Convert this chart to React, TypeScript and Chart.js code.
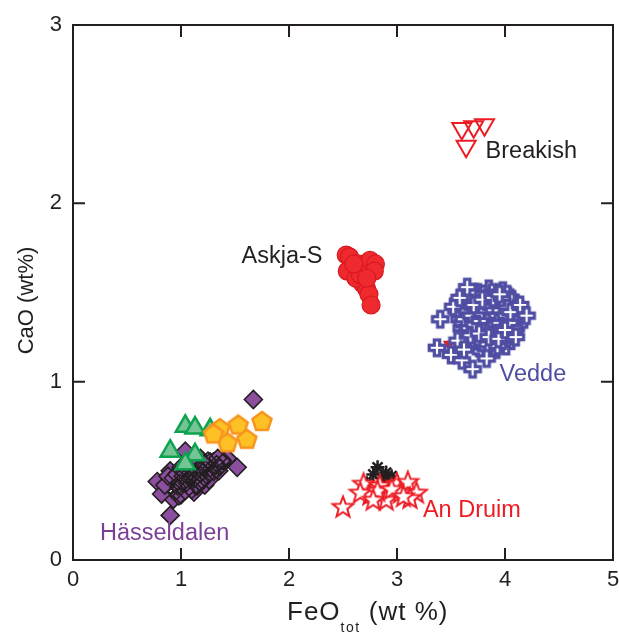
import React, { useEffect, useRef } from "react";
import { Chart, registerables } from "chart.js";

Chart.register(...registerables);

type P = [number, number];

const xTicks = [0, 1, 2, 3, 4, 5];
const yTicks = [0, 1, 2, 3];

const breakish: P[] = [[3.60, 2.42], [3.71, 2.43], [3.81, 2.44], [3.64, 2.32]];

const askja: P[] = [
  [2.53, 1.71], [2.56, 1.70], [2.58, 1.62], [2.54, 1.62], [2.64, 1.66], [2.70, 1.63],
  [2.75, 1.68], [2.80, 1.66], [2.79, 1.62], [2.68, 1.55], [2.72, 1.52], [2.74, 1.49],
  [2.62, 1.58], [2.76, 1.43], [2.66, 1.60], [2.72, 1.58], [2.60, 1.66],
];

const vedde: P[] = [
  [3.55, 1.40], [3.60, 1.45], [3.62, 1.38], [3.65, 1.33], [3.68, 1.42], [3.70, 1.48],
  [3.72, 1.36], [3.74, 1.30], [3.75, 1.40], [3.77, 1.45], [3.78, 1.25], [3.80, 1.35],
  [3.82, 1.42], [3.83, 1.30], [3.85, 1.38], [3.86, 1.46], [3.88, 1.28], [3.90, 1.34],
  [3.91, 1.41], [3.93, 1.24], [3.95, 1.37], [3.96, 1.31], [3.98, 1.44], [4.00, 1.35],
  [4.02, 1.28], [4.04, 1.40], [4.06, 1.33], [4.08, 1.38], [4.10, 1.30], [4.12, 1.36],
  [3.66, 1.27], [3.70, 1.22], [3.76, 1.19], [3.80, 1.20], [3.84, 1.16], [3.88, 1.21],
  [3.92, 1.18], [3.97, 1.22], [4.01, 1.20], [3.60, 1.30], [3.58, 1.35], [3.63, 1.49],
  [3.75, 1.50], [3.85, 1.52], [3.95, 1.50], [4.05, 1.47], [3.90, 1.48], [3.79, 1.31],
  [3.87, 1.33], [3.93, 1.29], [3.73, 1.34], [3.81, 1.39], [3.89, 1.43], [3.99, 1.39],
  [4.03, 1.32], [3.67, 1.39], [3.71, 1.29], [3.77, 1.37], [3.83, 1.24], [3.91, 1.26],
  [3.57, 1.44], [3.59, 1.38], [3.61, 1.33], [3.64, 1.45], [3.66, 1.36], [3.69, 1.31],
  [3.69, 1.45], [3.71, 1.39], [3.73, 1.43], [3.74, 1.25], [3.76, 1.33], [3.76, 1.47],
  [3.78, 1.40], [3.79, 1.28], [3.80, 1.44], [3.81, 1.23], [3.82, 1.35], [3.84, 1.41],
  [3.84, 1.28], [3.85, 1.47], [3.86, 1.20], [3.87, 1.37], [3.88, 1.32], [3.89, 1.39],
  [3.90, 1.25], [3.91, 1.45], [3.92, 1.35], [3.93, 1.41], [3.94, 1.30], [3.95, 1.22],
  [3.96, 1.43], [3.97, 1.34], [3.98, 1.27], [3.99, 1.47], [4.00, 1.41], [4.01, 1.31],
  [4.02, 1.24], [4.03, 1.44], [4.04, 1.36], [4.05, 1.29], [4.06, 1.42], [4.07, 1.35],
  [4.08, 1.26], [4.09, 1.44], [4.11, 1.40], [4.13, 1.32], [3.72, 1.26], [3.75, 1.21],
  [3.78, 1.17], [3.82, 1.19], [3.86, 1.27], [3.90, 1.19], [3.94, 1.26], [3.99, 1.24],
  [3.63, 1.41], [3.67, 1.47], [3.72, 1.50], [3.80, 1.49], [3.88, 1.50], [3.98, 1.51],
  [4.02, 1.49], [3.64, 1.24], [3.68, 1.35], [3.74, 1.38], [3.81, 1.32], [3.87, 1.44],
  [3.92, 1.38], [3.97, 1.40], [4.03, 1.38], [4.08, 1.32],
  [3.62, 1.35], [3.65, 1.40], [3.67, 1.30], [3.70, 1.35], [3.70, 1.42], [3.73, 1.39],
  [3.73, 1.31], [3.75, 1.35], [3.75, 1.44], [3.77, 1.29], [3.78, 1.34], [3.78, 1.43],
  [3.80, 1.38], [3.80, 1.27], [3.82, 1.46], [3.83, 1.36], [3.83, 1.33], [3.85, 1.30],
  [3.85, 1.42], [3.86, 1.35], [3.87, 1.40], [3.88, 1.24], [3.88, 1.46], [3.90, 1.37],
  [3.90, 1.30], [3.91, 1.22], [3.92, 1.43], [3.93, 1.33], [3.94, 1.39], [3.95, 1.28],
  [3.96, 1.46], [3.96, 1.35], [3.97, 1.25], [3.98, 1.31], [3.99, 1.42], [4.00, 1.38],
  [4.00, 1.27], [4.01, 1.45], [4.02, 1.34], [4.03, 1.41], [4.04, 1.30], [4.05, 1.37],
  [4.06, 1.45], [4.07, 1.31], [4.09, 1.36], [4.10, 1.41], [3.79, 1.22], [3.84, 1.21],
  [3.93, 1.20], [3.68, 1.26], [3.71, 1.33], [3.76, 1.41], [3.89, 1.35], [3.94, 1.44],
  [3.69, 1.37], [3.72, 1.32], [3.74, 1.41], [3.77, 1.34], [3.79, 1.38], [3.81, 1.29],
  [3.83, 1.40], [3.84, 1.34], [3.86, 1.31], [3.87, 1.42], [3.89, 1.30], [3.90, 1.40],
  [3.92, 1.32], [3.93, 1.37], [3.95, 1.33], [3.96, 1.40], [3.98, 1.36], [3.99, 1.30],
  [4.01, 1.37], [4.02, 1.42], [4.04, 1.33], [4.05, 1.39], [3.76, 1.27], [3.85, 1.25],
  [3.94, 1.24], [4.00, 1.29], [3.71, 1.43], [3.79, 1.46], [3.89, 1.47], [3.97, 1.47],
  [3.40, 1.35], [3.37, 1.19], [3.52, 1.42], [3.58, 1.47], [3.65, 1.53], [3.95, 1.49],
  [4.14, 1.43], [4.20, 1.37], [3.70, 1.07], [3.83, 1.13], [3.50, 1.15], [3.60, 1.12],
  [4.10, 1.25], [3.56, 1.23], [3.62, 1.18],
];

const veddeRed: P[] = [[3.48, 1.21], [3.52, 1.18], [3.55, 1.22], [3.50, 1.16]];

const anDruim: P[] = [
  [2.50, 0.30], [2.69, 0.43], [2.84, 0.42], [3.00, 0.43], [3.10, 0.44], [3.18, 0.38],
  [3.12, 0.35], [2.75, 0.37], [2.90, 0.34], [2.66, 0.38], [3.03, 0.38], [2.82, 0.39],
  [2.95, 0.40], [3.06, 0.36], [2.78, 0.34],
];

const anDruimBlack: P[] = [
  [2.82, 0.52], [2.90, 0.49], [2.78, 0.48], [2.95, 0.47], [2.86, 0.46], [2.72, 0.43], [2.90, 0.42],
];

const hasseldalen: P[] = [
  [1.67, 0.90], [0.78, 0.44], [0.93, 0.34], [0.82, 0.37], [1.52, 0.52], [1.04, 0.61],
  [1.43, 0.57], [0.90, 0.50], [0.90, 0.25], [0.85, 0.42], [0.95, 0.45], [1.00, 0.40],
  [1.05, 0.47], [1.10, 0.43], [1.15, 0.50], [1.20, 0.46], [1.25, 0.52], [1.30, 0.55],
  [1.35, 0.50], [1.00, 0.52], [1.08, 0.55], [1.18, 0.57], [1.28, 0.48], [0.98, 0.36],
  [1.12, 0.38], [1.22, 0.42], [1.38, 0.56], [0.88, 0.47], [1.02, 0.44], [1.16, 0.46],
  [1.06, 0.41], [1.14, 0.53], [1.24, 0.49], [1.32, 0.53], [0.96, 0.48], [1.09, 0.50],
  [1.03, 0.49], [1.11, 0.47], [1.19, 0.51], [1.27, 0.55], [1.07, 0.44], [1.13, 0.42],
  [1.21, 0.54], [1.26, 0.45], [1.34, 0.57], [0.99, 0.43], [1.17, 0.44], [1.04, 0.39],
];

const hasseldalenBlack: P[] = [
  [0.92, 0.46], [0.97, 0.41], [1.01, 0.47], [1.05, 0.43], [1.08, 0.49], [1.12, 0.45],
  [1.15, 0.41], [1.18, 0.48], [1.21, 0.52], [1.24, 0.47], [1.27, 0.51], [1.30, 0.49],
  [1.33, 0.54], [1.36, 0.52], [1.39, 0.55], [1.03, 0.52], [1.10, 0.39], [1.14, 0.55],
  [0.95, 0.38], [1.00, 0.36], [1.20, 0.44], [1.25, 0.56], [1.07, 0.46], [1.17, 0.51],
];

const greenTri: P[] = [[1.04, 0.75], [1.13, 0.74], [1.27, 0.73], [0.90, 0.61], [1.13, 0.59], [1.04, 0.54]];

const orangePent: P[] = [[1.36, 0.74], [1.53, 0.76], [1.75, 0.78], [1.43, 0.66], [1.61, 0.68], [1.30, 0.71]];

const labels: { text: string; x: number; y: number; color: string; align: CanvasTextAlign }[] = [
  { text: "Breakish", x: 3.82, y: 2.29, color: "#231f20", align: "left" },
  { text: "Askja-S", x: 2.31, y: 1.70, color: "#231f20", align: "right" },
  { text: "Vedde", x: 3.95, y: 1.04, color: "#4f4ea3", align: "left" },
  { text: "An Druim", x: 3.24, y: 0.275, color: "#ed1c24", align: "left" },
  { text: "Hässeldalen", x: 0.25, y: 0.15, color: "#7b3f97", align: "left" },
];

const FONT = '"Liberation Sans", Arial, sans-serif';
const INK = "#231f20";

function shapeCanvas(size: number, draw: (ctx: CanvasRenderingContext2D, c: number) => void) {
  const cv = document.createElement("canvas");
  cv.width = size;
  cv.height = size;
  const ctx = cv.getContext("2d")!;
  draw(ctx, size / 2);
  return cv;
}

function polygon(ctx: CanvasRenderingContext2D, pts: [number, number][]) {
  ctx.beginPath();
  pts.forEach(([a, b], i) => (i ? ctx.lineTo(a, b) : ctx.moveTo(a, b)));
  ctx.closePath();
}

const toXY = (arr: P[]) => arr.map(([x, y]) => ({ x, y }));

export default function App() {
  const ref = useRef<HTMLCanvasElement>(null);
  useEffect(() => {
    document.body.style.margin = "0";
    const star = shapeCanvas(26, (ctx, c) => {
      const pts: [number, number][] = [];
      for (let i = 0; i < 10; i++) {
        const r = i % 2 === 0 ? 11 : 4.6;
        const a = -Math.PI / 2 + (i * Math.PI) / 5;
        pts.push([c + r * Math.cos(a), c + 1 + r * Math.sin(a)]);
      }
      polygon(ctx, pts);
      ctx.fillStyle = "#fff";
      ctx.fill();
      ctx.strokeStyle = "#ed1c24";
      ctx.lineWidth = 2;
      ctx.lineJoin = "miter";
      ctx.stroke();
    });
    const pent = shapeCanvas(26, (ctx, c) => {
      const pts: [number, number][] = [];
      for (let i = 0; i < 5; i++) {
        const a = -Math.PI / 2 + (i * 2 * Math.PI) / 5;
        pts.push([c + 10 * Math.cos(a), c + 1 + 10 * Math.sin(a)]);
      }
      polygon(ctx, pts);
      ctx.fillStyle = "#fdc126";
      ctx.fill();
      ctx.strokeStyle = "#f7941d";
      ctx.lineWidth = 2.5;
      ctx.stroke();
    });
    const plus = shapeCanvas(22, (ctx, c) => {
      const h = 7.8, w = 2.7;
      polygon(ctx, [
        [c - w, c - h], [c + w, c - h], [c + w, c - w], [c + h, c - w], [c + h, c + w], [c + w, c + w],
        [c + w, c + h], [c - w, c + h], [c - w, c + w], [c - h, c + w], [c - h, c - w], [c - w, c - w],
      ]);
      ctx.fillStyle = "#fff";
      ctx.fill();
      ctx.strokeStyle = "#4f4ea3";
      ctx.lineWidth = 3.2;
      ctx.stroke();
    });

    const chart = new Chart(ref.current!, {
      type: "scatter",
      data: {
        datasets: [
          { data: toXY(breakish), pointStyle: "triangle", rotation: 180, pointRadius: 11, borderColor: "#ed1c24", backgroundColor: "rgba(255,255,255,0)", borderWidth: 2 },
          { data: toXY(askja), pointStyle: "circle", pointRadius: 9, backgroundColor: "#ee2a2f", borderColor: "#d7191f", borderWidth: 1.2 },
          { data: toXY(vedde), pointStyle: plus, pointRadius: 11 },
          { data: toXY(veddeRed), pointStyle: "triangle", rotation: 180, pointRadius: 6, backgroundColor: "#ed1c24", borderColor: "#c4161c", borderWidth: 1 },
          { data: toXY(anDruim), pointStyle: star, pointRadius: 12 },
          { data: toXY(anDruimBlack), pointStyle: "star", pointRadius: 7, borderColor: INK, backgroundColor: INK, borderWidth: 2.5 },
          { data: toXY(orangePent), pointStyle: pent, pointRadius: 12 },
          { data: toXY(greenTri), pointStyle: "triangle", pointRadius: 11, backgroundColor: "#74c495", borderColor: "#0da34f", borderWidth: 2.5 },
          { data: toXY(hasseldalenBlack), pointStyle: "rectRot", pointRadius: 8, backgroundColor: "rgba(0,0,0,0)", borderColor: INK, borderWidth: 1.6 },
          { data: toXY(hasseldalen), pointStyle: "rectRot", pointRadius: 9, backgroundColor: "#8c4f9f", borderColor: INK, borderWidth: 1.6 },
        ],
      },
      options: {
        responsive: false,
        animation: false,
        layout: { autoPadding: false, padding: { top: 25, right: 6, left: 0, bottom: 0 } },
        plugins: { legend: { display: false }, tooltip: { enabled: false } },
        scales: {
          x: {
            type: "linear",
            min: xTicks[0],
            max: xTicks[xTicks.length - 1],
            afterBuildTicks: (s: any) => { s.ticks = xTicks.map((v) => ({ value: v })); },
            afterFit: (s: any) => { s.height = 74; s.paddingLeft = 0; s.paddingRight = 0; },
            grid: { display: false, drawTicks: false },
            border: { display: false },
            ticks: { display: false },
          },
          y: {
            type: "linear",
            min: yTicks[0],
            max: yTicks[yTicks.length - 1],
            afterBuildTicks: (s: any) => { s.ticks = yTicks.map((v) => ({ value: v })); },
            afterFit: (s: any) => { s.width = 73; s.paddingTop = 0; s.paddingBottom = 0; },
            grid: { display: false, drawTicks: false },
            border: { display: false },
            ticks: { color: INK, font: { family: FONT, size: 22 }, padding: 11 },
          },
        },
      },
      plugins: [
        {
          id: "frame",
          afterDraw(c: any) {
            const { ctx, chartArea } = c;
            const { left, right, top, bottom } = chartArea;
            const xs = c.scales.x, ys = c.scales.y;
            ctx.save();
            ctx.strokeStyle = INK;
            ctx.lineWidth = 2;
            ctx.strokeRect(left, top, right - left, bottom - top);
            const L = 12;
            ctx.beginPath();
            xTicks.slice(1, -1).forEach((v) => {
              const px = xs.getPixelForValue(v);
              ctx.moveTo(px, bottom); ctx.lineTo(px, bottom - L);
              ctx.moveTo(px, top); ctx.lineTo(px, top + L);
            });
            yTicks.slice(1, -1).forEach((v) => {
              const py = ys.getPixelForValue(v);
              ctx.moveTo(left, py); ctx.lineTo(left + L, py);
              ctx.moveTo(right, py); ctx.lineTo(right - L, py);
            });
            ctx.stroke();

            // x tick labels
            ctx.fillStyle = INK;
            ctx.font = `22px ${FONT}`;
            ctx.textAlign = "center";
            ctx.textBaseline = "top";
            xTicks.forEach((v) => ctx.fillText(String(v), xs.getPixelForValue(v), bottom + 9));

            ctx.font = `23.5px ${FONT}`;
            ctx.textBaseline = "middle";
            labels.forEach((l) => {
              ctx.fillStyle = l.color;
              ctx.textAlign = l.align;
              ctx.fillText(l.text, xs.getPixelForValue(l.x), ys.getPixelForValue(l.y));
            });

            // x title with subscript
            ctx.fillStyle = INK;
            ctx.textAlign = "left";
            ctx.textBaseline = "alphabetic";
            (ctx as any).letterSpacing = "1px";
            const big = `26px ${FONT}`, small = `14px ${FONT}`;
            ctx.font = big;
            const w1 = ctx.measureText("FeO").width;
            (ctx as any).letterSpacing = "1.5px";
            ctx.font = small;
            const w2 = ctx.measureText("tot").width;
            const x0 = 287;
            const base = 620;
            ctx.fillText("tot", x0 + w1, base + 12);
            (ctx as any).letterSpacing = "1px";
            ctx.font = big;
            ctx.fillText("FeO", x0, base);
            ctx.fillText(" (wt %)", x0 + w1 + w2, base);
            (ctx as any).letterSpacing = "0px";

            // y title
            ctx.save();
            ctx.translate(27, (top + bottom) / 2 + 8);
            ctx.rotate(-Math.PI / 2);
            ctx.textAlign = "center";
            ctx.textBaseline = "middle";
            ctx.font = `22px ${FONT}`;
            ctx.fillText("CaO (wt%)", 0, 0);
            ctx.restore();
            ctx.restore();
          },
        },
      ],
    } as any);
    return () => chart.destroy();
  }, []);
  return (
    <div style={{ position: "absolute", left: 0, top: 0, width: 619, height: 634, overflow: "hidden" }}>
      <canvas ref={ref} width={619} height={634} style={{ display: "block", width: 619, height: 634 }} />
    </div>
  );
}
